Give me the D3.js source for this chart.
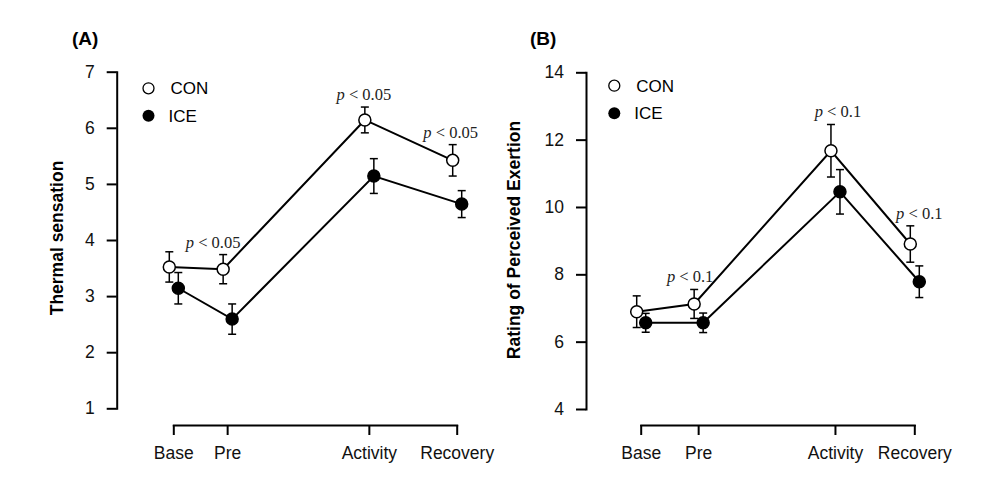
<!DOCTYPE html>
<html>
<head>
<meta charset="utf-8">
<script src="https://cdn.jsdelivr.net/npm/d3@7"></script>
<style>
  body { margin: 0; background: #fff; }
  svg { display: block; font-family: "Liberation Sans", Arial, sans-serif; }
  .axis path, .axis line { stroke: #000; stroke-width: 2; }
  .axis text { font-size: 17.5px; fill: #111; font-family: "Liberation Sans", Arial, sans-serif; }
  .ann { font-family: "Liberation Serif", "Times New Roman", serif; font-size: 16.5px; fill: #222; }
</style>
</head>
<body>
<svg id="chart" width="991" height="482"></svg>
<script>
// timepoints (relative position on time axis)
var phases = ["Base", "Pre", "Activity", "Recovery"];
var timeA = [0, 19, 69, 100];
var timeB = [0, 21, 71, 100];

// (A) thermal sensation
var thermalCON = [3.52, 3.48, 6.14, 5.42];
var thermalCONErr = [0.27, 0.26, 0.23, 0.28];
var thermalICE = [3.14, 2.59, 5.14, 4.64];
var thermalICEErr = [0.28, 0.27, 0.31, 0.24];
var thermalTicks = [1, 2, 3, 4, 5, 6, 7];
var thermalNotes = [[1, "0.05"], [2, "0.05"], [3, "0.05"]];

// (B) rating of perceived exertion
var rpeCON = [6.89, 7.12, 11.67, 8.90];
var rpeCONErr = [0.47, 0.43, 0.78, 0.54];
var rpeICE = [6.56, 6.56, 10.45, 7.78];
var rpeICEErr = [0.28, 0.29, 0.66, 0.47];
var rpeTicks = [4, 6, 8, 10, 12, 14];
var rpeNotes = [[1, "0.1"], [2, "0.1"], [3, "0.1"]];

var svg = d3.select("#chart");

function drawPanel(opt) {
    let g = svg.append("g");

    let x = d3.scaleLinear().domain([0, 100]).range([opt.x0, opt.x1]);
    let y = d3.scaleLinear().domain(opt.domain).range([opt.yBottom, opt.yTop]);

    // axes
    g.append("g")
        .attr("class", "axis")
        .attr("transform", `translate(${opt.axisX},0)`)
        .call(d3.axisLeft(y).tickValues(opt.ticks).tickSize(10).tickSizeOuter(0).tickPadding(12)
            .tickFormat(d3.format("d")));

    g.append("g")
        .attr("class", "axis")
        .attr("transform", `translate(0,425)`)
        .call(d3.axisBottom(x).tickValues(opt.time).tickSize(10).tickSizeOuter(0).tickPadding(12)
            .tickFormat((d, i) => phases[i]));

    g.selectAll(".axis .domain").attr("stroke-linecap", "square");

    // y title
    g.append("text")
        .attr("transform", `translate(${opt.titleX},${opt.titleY}) rotate(-90)`)
        .attr("text-anchor", "middle")
        .attr("font-size", "17.5px")
        .attr("font-weight", "bold")
        .text(opt.title);

    // panel letter
    g.append("text")
        .attr("x", opt.letterX)
        .attr("y", 45)
        .attr("font-size", "19px")
        .attr("font-weight", "bold")
        .text(opt.letter);

    let series = [
        { vals: opt.con, err: opt.conErr, dx: -4, fill: "#fff" },
        { vals: opt.ice, err: opt.iceErr, dx: 5, fill: "#000" }
    ];

    let line = d3.line()
        .x((d, i) => x(opt.time[i]))
        .y(d => y(d));

    series.forEach(s => {
        let sg = g.append("g").attr("transform", `translate(${s.dx},0)`);
        sg.append("path")
            .datum(s.vals)
            .attr("d", line)
            .attr("fill", "none")
            .attr("stroke", "#000")
            .attr("stroke-width", 2);

        let eb = sg.selectAll(".eb").data(s.vals).enter().append("g");
        eb.append("line")
            .attr("x1", (d, i) => x(opt.time[i]))
            .attr("x2", (d, i) => x(opt.time[i]))
            .attr("y1", (d, i) => y(d + s.err[i]))
            .attr("y2", (d, i) => y(d - s.err[i]))
            .attr("stroke", "#000").attr("stroke-width", 1.5);
        [1, -1].forEach(sign => {
            eb.append("line")
                .attr("x1", (d, i) => x(opt.time[i]) - 4)
                .attr("x2", (d, i) => x(opt.time[i]) + 4)
                .attr("y1", (d, i) => y(d + sign * s.err[i]))
                .attr("y2", (d, i) => y(d + sign * s.err[i]))
                .attr("stroke", "#000").attr("stroke-width", 1.5);
        });

        sg.selectAll(".pt").data(s.vals).enter().append("circle")
            .attr("cx", (d, i) => x(opt.time[i]))
            .attr("cy", d => y(d))
            .attr("r", 6)
            .attr("fill", s.fill)
            .attr("stroke", "#000")
            .attr("stroke-width", 1.5);
    });

    // significance notes, above the CON error bar
    opt.notes.forEach((n, k) => {
        let i = n[0];
        let t = g.append("text")
            .attr("class", "ann")
            .attr("x", x(opt.time[i]) - 4 + opt.noteDx[k])
            .attr("y", y(opt.con[i] + opt.conErr[i]) - 7)
            .attr("text-anchor", "middle");
        t.append("tspan").attr("font-style", "italic").text("p");
        t.append("tspan").text(" < " + n[1]);
    });

    // legend
    let lg = g.append("g");
    lg.append("circle").attr("cx", opt.legX).attr("cy", opt.legY).attr("r", 5.5)
        .attr("fill", "#fff").attr("stroke", "#000").attr("stroke-width", 1.3);
    lg.append("text").attr("x", opt.legX + 22).attr("y", opt.legY + 6)
        .attr("font-size", "17px").text("CON");
    lg.append("circle").attr("cx", opt.legX).attr("cy", opt.legY + 27.5).attr("r", 6)
        .attr("fill", "#000");
    lg.append("text").attr("x", opt.legX + 20).attr("y", opt.legY + 33.5)
        .attr("font-size", "17px").text("ICE");
}

drawPanel({
    x0: 173.3, x1: 456.7, axisX: 116.7,
    domain: [1, 7], yBottom: 408.3, yTop: 71.7, ticks: thermalTicks,
    time: timeA,
    con: thermalCON, conErr: thermalCONErr, ice: thermalICE, iceErr: thermalICEErr,
    notes: thermalNotes, noteDx: [-10, -1, -2],
    title: "Thermal sensation", titleX: 63, titleY: 238,
    letter: "(A)", letterX: 72,
    legX: 148.5, legY: 88.3
});

drawPanel({
    x0: 640.7, x1: 914.3, axisX: 586,
    domain: [4, 14], yBottom: 409, yTop: 72.3, ticks: rpeTicks,
    time: timeB,
    con: rpeCON, conErr: rpeCONErr, ice: rpeICE, iceErr: rpeICEErr,
    notes: rpeNotes, noteDx: [-4, 7, 9],
    title: "Rating of Perceived Exertion", titleX: 520, titleY: 240,
    letter: "(B)", letterX: 530,
    legX: 614.3, legY: 85.7
});
</script>
</body>
</html>
